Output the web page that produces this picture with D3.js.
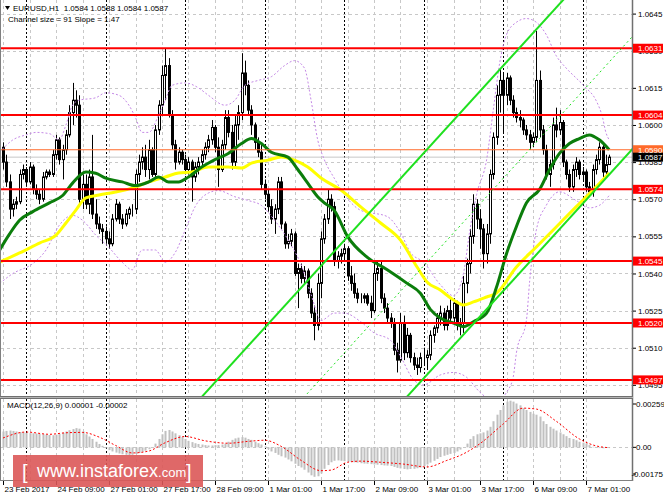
<!DOCTYPE html>
<html>
<head>
<meta charset="utf-8">
<script src="https://cdn.jsdelivr.net/npm/d3@7"></script>
<style>
  body { margin: 0; background: #fff; }
  svg { display: block; font-family: "Liberation Sans", Arial, sans-serif; }
  text { white-space: pre; }
</style>
</head>
<body>
<script>
const width = 664;
const height = 498;

// prices are kept in pips above 1.0500
const BASE = 1.05;

// EURUSD H1 candles, bar 0 = 23 Feb 17:00 (open of a bar = close of the previous one)
const firstOpen = 91;
const closes = [
  85,77,66,68,69,80,82,77,83,74, 72,70,79,81,80,88,94,86,90,96,
  105,110,108,70,76,68,79,64,60,58, 57,54,52,62,68,62,60,64,66,66,
  80,85,87,82,90,80,98,108,120,124, 104,92,85,89,86,82,85,79,83,85,
  88,91,94,99,91,82,92,103,97,85, 100,105,121,116,106,100,93,89,76,72,
  67,62,66,77,60,52,53,56,40,42, 38,41,32,24,19,36,54,62,70,67,
  45,47,48,50,39,36,32,30,30,31, 28,25,40,42,30,26,22,20,9,5,
  20,8,15,6,3,2,6,6,7,15, 18,22,24,19,25,22,28,19,20,36,
  44,55,68,62,58,48,56,80,95,112, 118,112,119,110,105,103,102,98,96,93,
  95,118,98,90,80,84,100,98,101,85, 80,75,82,85,80,81,75,73,82,86,
  91,81,84,87
];
const highs = [
  93,88,80,70,71,82,84,83,85,84, 76,74,81,82,82,90,96,95,92,98,
  108,117,114,112,80,80,82,96,70,63, 60,59,57,64,70,69,64,66,67,68,
  82,88,91,92,94,91,100,110,124,131, 127,106,94,91,90,88,87,86,85,87,
  90,93,96,102,100,95,94,106,106,100, 104,108,129,126,118,108,101,95,92,78,
  74,70,68,79,79,61,56,58,57,44, 44,43,42,34,27,40,57,64,74,72,
  69,49,50,52,51,43,40,34,32,32, 32,31,44,45,45,32,28,24,22,12,
  24,23,18,16,8,6,8,10,9,17, 19,24,27,26,27,30,30,29,22,39,
  46,58,72,70,66,60,60,82,97,116, 123,121,121,120,112,107,106,103,100,98,
  97,138,122,100,92,86,103,107,106,102, 86,82,84,87,86,83,82,77,84,88,
  93,92,88,88
];
const lows = [
  82,75,62,63,66,68,78,75,76,72, 70,68,69,78,79,79,86,84,78,88,
  95,100,103,68,66,66,64,62,58,56, 52,52,50,51,61,60,58,59,62,63,
  64,77,82,79,78,79,79,96,104,110, 103,90,82,84,84,80,80,69,77,80,
  83,86,89,92,89,75,81,90,95,82, 83,94,102,112,104,96,90,87,74,70,
  65,60,56,64,58,50,50,51,39,26, 36,36,30,22,13,17,30,52,60,65,
  43,42,44,45,37,33,30,28,28,28, 27,22,24,37,28,24,20,18,7,0,
  4,5,6,4,1,-1,0,3,1,5, 12,16,19,17,17,20,20,17,15,16,
  32,40,52,58,50,42,44,52,78,92, 105,97,108,108,103,101,99,96,94,90,
  91,93,95,88,78,75,82,95,96,83, 78,73,73,79,78,77,73,71,71,80,
  84,79,79,84
];

// moving averages and bands, [bar, pips]
const greenMA = [[-1,49.5],[2,56],[5,61.5],[9,65],[14,68.5],[18,71.5],[21,76.5],[25,81],[28,80.5],
  [31,78.5],[36,77],[40,75.5],[44,77],[47,79],[50,77],[53,77],[56,79],[60,83],[64,86],[68,88.5],
  [72,92.5],[75,94.5],[78,92.5],[81,89],[86,87],[89,82],[92,76.5],[95,71],[97,68.5],[100,65.5],
  [104,55],[110,46.5],[116,41.5],[122,36],[126,32],[129,25.5],[132,22],[136,20],[139,18.5],
  [142,20.5],[146,24],[149,34.5],[152,48],[155,59],[158,68.5],[162,74],[165,82],[168,88.5],
  [171,92.5],[174,94.5],[177,96],[180,94],[183,90]];
const yellowMA = [[-1,44.6],[5,48.3],[11,52.3],[16,55.5],[19,60.4],[22,65.6],[25,70.5],[29,71.7],
  [34,72.9],[39,74.5],[44,77],[49,79],[53,80.6],[57,81],[62,83],[68,83],[72,82.6],[75,84.6],
  [80,85.8],[84,87.1],[88,85.8],[92,83],[96,78.6],[102,73.7],[108,66.9],[114,60.4],[120,53.5],
  [125,42.6],[128,36.6],[132,33.3],[136,29.3],[139,27.3],[142,28.5],[146,30.5],[149,32.1],
  [155,42.6],[161,50.7],[167,58.8],[173,66.9],[179,74.9],[183,80.6]];
const bbUpper = [[-1,89],[3,94],[7,96],[10,97],[14,96.5],[17,94],[19,100],[21,108],[23,110],[28,111],
  [31,113],[35,112],[38,108],[40,103],[42,97],[44,97],[47,104],[49,110],[51,116],[55,117],[59,115],
  [62,112],[67,108],[70,110],[73,116],[77,118],[81,119.5],[85,124],[88,126],[91,123],[93,110],
  [95,94],[97,86],[100,78.5],[103,72],[108,65.5],[116,63],[120,56.5],[123,48.5],[127,44.5],
  [132,35.5],[136,31],[139,40],[141,58],[143,72],[146,86],[148,106],[150,125.5],[152,136.5],
  [155,141.5],[158,143],[161,141.5],[164,136.5],[167,128],[170,123],[173,119],[176,115],
  [179,110],[181,103],[182,97],[183,94]];
const bbLower = [[-1,36],[3,40],[9,44],[13,49.5],[17,59.5],[21,63.5],[24,61.5],[28,55.5],[32,50.5],
  [36,44.5],[39,41.5],[42,49.5],[46,49.5],[49,44.5],[52,48.5],[55,57.5],[58,67],[62,72.5],[65,73.5],
  [70,71],[74,69.5],[78,67.5],[82,61.5],[87,51.5],[90,43.5],[93,31.5],[96,21],[100,24],[103,24],
  [108,20.5],[112,16],[117,13],[120,6.5],[124,-3],[127,-5],[132,-1],[136,0],[140,-2],[144,-8],
  [149,-12],[152,-8],[154,-2],[155,8],[158,21],[159,37],[161,57.5],[164,67.5],[168,73],[173,69.5],
  [177,66.5],[180,67.5],[183,71.5]];

// regression channel: anchor [bar, pips] of the lower line, width in pips, slope in pips per bar
const channelAnchor = [142.5, 20.4];
const channelSize = 91;
const channelSlope = 1.47;

// horizontal levels
const redLevels = [1.0631, 1.0604, 1.0574, 1.0545, 1.0520, 1.0497];
const orangeLevel = 1.0590;
const lastPrice = 1.0587;
const priceTicks = [1.0645, 1.0630, 1.0615, 1.0600, 1.0585, 1.0570, 1.0555, 1.0540, 1.0525, 1.0510, 1.0495];

// time axis
const timeLabelBars = [0, 16, 32, 48, 64, 80, 96, 112, 128, 144, 160, 176];
const timeLabels = ["23 Feb 2017", "24 Feb 09:00", "27 Feb 01:00", "27 Feb 17:00", "28 Feb 09:00",
  "1 Mar 01:00", "1 Mar 17:00", "2 Mar 09:00", "3 Mar 01:00", "3 Mar 17:00", "6 Mar 09:00", "7 Mar 01:00"];
const daySeparators = [7, 31, 55, 79, 103, 127, 151, 175];

// MACD(12,26,9), units of 0.00001
const macdHist = [
  85,88,90,88,85,82, 80,78,76,75,74,72, 70,68,66,65,68,72, 78,85,92,98,103,100,
  85,70,58,45, 30,18,8, -5,-15,-22,-28,-33,-37,-40,-41,-40,-36,-30,-24,-18,
  -10,0,20,45, 70,88,93,85,75,65, 55,45,35,28,22,18,15, 12,10,10,12,12,15,20,30,40,
  48,52,55,52,45,40, 30,22,15,5, -10,-22,-30,-40,-48, -55,-65,-75,-88,-100,-108,
  -120,-135,-150,-158,-155,-140, -115,-95,-80,-72, -70,-72,-74,-76,-78,-80,
  -82,-85,-87,-88,-90,-92,-93, -95,-97,-98,-100,-105,-110,-113, -116,-118,-116,-115,-112,-108,
  -100,-92,-82,-72,-62, -52,-45,-40,-35,-30,-22,-12, 0,20,45,60, 70,75,80,90,
  110,140,175,200, 225,245,250,245, 235,225,210,200,190,180, 175,165,140,125,110,100,
  90,80,70,60,50, 45,38,30,25,20,12, 3,0,-4,-5,-3,1
];
const macdSignal = [[0,50],[7,82],[14,70],[19,78],[24,80],[29,55],[34,10],[39,-30],[44,-20],[49,25],
  [55,58],[61,35],[68,22],[74,32],[79,38],[84,5],[90,-70],[96,-125],[99,-122],[104,-80],[108,-74],
  [114,-80],[121,-90],[128,-105],[134,-70],[139,-35],[144,20],[151,125],[157,210],[161,205],
  [167,140],[174,45],[179,8],[183,-2]];
const macdTicks = [0.00259, 0, -0.00175];

const px = v => BASE + v / 10000;

// layout
const plotLeft = 1, plotRight = 632;
const mainTop = 0, mainBottom = 396;
const macdTop = 399, macdBottom = 480;

const x = d3.scaleLinear().domain([0, 176]).range([3, 586]);
const y = d3.scaleLinear().domain([1.0495, 1.0645]).range([384.85, 13.6]);
const ym = d3.scaleLinear().domain([-0.00175, 0.00259]).range([macdBottom, macdTop]);

const svg = d3.select("body").append("svg")
  .attr("width", width)
  .attr("height", height);

svg.append("rect").attr("width", width).attr("height", height).attr("fill", "#fff");

const defs = svg.append("defs");
defs.append("clipPath").attr("id", "clipMain").append("rect")
  .attr("x", plotLeft).attr("y", mainTop).attr("width", plotRight - plotLeft).attr("height", mainBottom - mainTop);
defs.append("clipPath").attr("id", "clipMacd").append("rect")
  .attr("x", plotLeft).attr("y", macdTop).attr("width", plotRight - plotLeft).attr("height", macdBottom - macdTop);

const main = svg.append("g").attr("clip-path", "url(#clipMain)");
const macd = svg.append("g").attr("clip-path", "url(#clipMacd)");

// grid
const gridBars = d3.range(0, 184, 8);
[[main, mainTop, mainBottom], [macd, macdTop, macdBottom]].forEach(([g, t, b]) => {
  g.selectAll("line.vgrid").data(gridBars).join("line")
    .attr("class", "vgrid")
    .attr("x1", d => Math.round(x(d)) + 0.5).attr("x2", d => Math.round(x(d)) + 0.5)
    .attr("y1", t).attr("y2", b)
    .attr("stroke", "#c8c8c8").attr("stroke-dasharray", "3,3");
  g.selectAll("line.sep").data(daySeparators).join("line")
    .attr("class", "sep")
    .attr("x1", d => Math.round(x(d)) + 0.5).attr("x2", d => Math.round(x(d)) + 0.5)
    .attr("y1", t).attr("y2", b)
    .attr("stroke", "#000").attr("stroke-dasharray", "2,2");
});
main.selectAll("line.hgrid").data(priceTicks).join("line")
  .attr("x1", plotLeft).attr("x2", plotRight)
  .attr("y1", d => Math.round(y(d)) + 0.5).attr("y2", d => Math.round(y(d)) + 0.5)
  .attr("stroke", "#c8c8c8").attr("stroke-dasharray", "3,3");
macd.append("line")
  .attr("x1", plotLeft).attr("x2", plotRight)
  .attr("y1", Math.round(ym(0)) + 0.5).attr("y2", Math.round(ym(0)) + 0.5)
  .attr("stroke", "#c8c8c8").attr("stroke-dasharray", "3,3");

// bid line
main.append("line")
  .attr("x1", plotLeft).attr("x2", plotRight)
  .attr("y1", y(lastPrice)).attr("y2", y(lastPrice))
  .attr("stroke", "#c8c8c8");

// candles
const candles = closes.map((c, i) => ({
  i, c, h: highs[i], l: lows[i], o: i ? closes[i - 1] : firstOpen
}));
const gc = main.append("g");
gc.selectAll("line").data(candles).join("line")
  .attr("x1", d => Math.round(x(d.i)) + 0.5).attr("x2", d => Math.round(x(d.i)) + 0.5)
  .attr("y1", d => y(px(d.h))).attr("y2", d => y(px(d.l)))
  .attr("stroke", "#000");
gc.selectAll("rect").data(candles).join("rect")
  .attr("x", d => Math.round(x(d.i)) - 0.5).attr("width", 2)
  .attr("y", d => y(px(Math.max(d.o, d.c))))
  .attr("height", d => Math.abs(y(px(d.o)) - y(px(d.c))))
  .attr("fill", d => d.c >= d.o ? "#fff" : "#000")
  .attr("stroke", "#000").attr("stroke-width", 1);

// bands and averages
const priceLine = d3.line()
  .x(d => x(d[0]))
  .y(d => y(px(d[1])))
  .curve(d3.curveMonotoneX);

[bbUpper, bbLower].forEach(band => {
  main.append("path").attr("d", priceLine(band))
    .attr("fill", "none").attr("stroke", "#c488e6").attr("stroke-width", 1)
    .attr("stroke-dasharray", "2,2");
});
main.append("path").attr("d", priceLine(yellowMA))
  .attr("fill", "none").attr("stroke", "#ffff00").attr("stroke-width", 3);
main.append("path").attr("d", priceLine(greenMA))
  .attr("fill", "none").attr("stroke", "#0b7d0b").attr("stroke-width", 3);

// horizontal levels
main.selectAll("line.level").data(redLevels).join("line")
  .attr("class", "level")
  .attr("x1", plotLeft).attr("x2", plotRight)
  .attr("y1", d => y(d)).attr("y2", d => y(d))
  .attr("stroke", "#ff0000").attr("stroke-width", 2);
main.append("line")
  .attr("x1", plotLeft).attr("x2", plotRight)
  .attr("y1", y(orangeLevel)).attr("y2", y(orangeLevel))
  .attr("stroke", "#ff6a2a").attr("stroke-width", 1.2);

// channel
const chBars = [-20, 220];
const chLine = off => d3.line()
  .x(b => x(b))
  .y(b => y(px(channelAnchor[1] + channelSlope * (b - channelAnchor[0]) + off)))(chBars);
main.append("path").attr("d", chLine(0))
  .attr("fill", "none").attr("stroke", "#1fe01f").attr("stroke-width", 2);
main.append("path").attr("d", chLine(channelSize))
  .attr("fill", "none").attr("stroke", "#1fe01f").attr("stroke-width", 2);
main.append("path").attr("d", chLine(channelSize / 2))
  .attr("fill", "none").attr("stroke", "#1fe01f").attr("stroke-width", 1)
  .attr("stroke-dasharray", "2,3");

// MACD
macd.selectAll("rect.hist").data(macdHist).join("rect")
  .attr("class", "hist")
  .attr("x", (d, i) => Math.round(x(i)) - 0.5).attr("width", 2)
  .attr("y", d => Math.min(ym(d / 1e5), ym(0)))
  .attr("height", d => Math.abs(ym(d / 1e5) - ym(0)))
  .attr("fill", "#c0c0c0");
macd.append("path")
  .attr("d", d3.line().x(d => x(d[0])).y(d => ym(d[1] / 1e5)).curve(d3.curveMonotoneX)(macdSignal))
  .attr("fill", "none").attr("stroke", "#ff0000").attr("stroke-width", 1)
  .attr("stroke-dasharray", "2,2");

// frames
svg.append("line").attr("x1", 0.5).attr("x2", 0.5).attr("y1", 0).attr("y2", macdBottom)
  .attr("stroke", "#808080");
svg.append("line").attr("x1", plotRight + 0.5).attr("x2", plotRight + 0.5).attr("y1", 0).attr("y2", macdBottom + 1)
  .attr("stroke", "#707070").attr("stroke-width", 1.5);
svg.append("rect").attr("x", 0).attr("y", mainBottom).attr("width", plotRight + 1).attr("height", macdTop - mainBottom)
  .attr("fill", "#b4b4b4");
svg.append("line").attr("x1", 0).attr("x2", plotRight + 1).attr("y1", mainBottom + 0.5).attr("y2", mainBottom + 0.5)
  .attr("stroke", "#707070");
svg.append("line").attr("x1", 0).attr("x2", plotRight + 1).attr("y1", macdTop - 0.5).attr("y2", macdTop - 0.5)
  .attr("stroke", "#707070");
svg.append("line").attr("x1", 0).attr("x2", plotRight + 1).attr("y1", macdBottom + 0.5).attr("y2", macdBottom + 0.5)
  .attr("stroke", "#808080");

// price axis
const yAxis = svg.append("g")
  .attr("transform", `translate(${plotRight + 1},0)`)
  .call(d3.axisRight(y).tickValues(priceTicks).tickSize(3).tickPadding(2).tickFormat(d3.format(".4f")));
yAxis.select(".domain").remove();
yAxis.selectAll("text").attr("font-size", 8).attr("font-family", "Liberation Sans, Arial, sans-serif").attr("fill", "#000");
yAxis.selectAll("line").attr("stroke", "#000");

// price boxes
const boxes = redLevels.map(v => ({ v, fill: "#ff0000" }))
  .concat([{ v: orangeLevel, fill: "#ff6a2a" }, { v: lastPrice, fill: "#000" }]);
const gb = svg.append("g");
gb.selectAll("rect").data(boxes).join("rect")
  .attr("x", plotRight + 1).attr("width", width - plotRight - 2)
  .attr("y", d => y(d.v) - 4.5).attr("height", 9)
  .attr("fill", d => d.fill);
gb.selectAll("text").data(boxes).join("text")
  .attr("x", plotRight + 6).attr("y", d => y(d.v) + 3)
  .attr("font-size", 8).attr("fill", "#fff")
  .text(d => d3.format(".4f")(d.v));

// MACD axis
const gm = svg.append("g");
gm.selectAll("line").data(macdTicks).join("line")
  .attr("x1", plotRight + 1).attr("x2", plotRight + 4)
  .attr("y1", (d, i) => [ym(d) + 5, ym(d), ym(d) - 6][i])
  .attr("y2", (d, i) => [ym(d) + 5, ym(d), ym(d) - 6][i])
  .attr("stroke", "#000");
gm.selectAll("text").data(macdTicks).join("text")
  .attr("x", d => d < 0 ? width - 1 : plotRight + 4)
  .attr("text-anchor", d => d < 0 ? "end" : "start")
  .attr("y", (d, i) => [ym(d) + 8, ym(d) + 3, ym(d) - 3][i])
  .attr("font-size", 8).attr("fill", "#000")
  .text(d => d === 0 ? "0.00" : d3.format(".5f")(d).replace("\u2212", "-"));

// time axis
const xAxis = svg.append("g")
  .attr("transform", `translate(0,${macdBottom + 1})`)
  .call(d3.axisBottom(x).tickValues(timeLabelBars).tickSize(4).tickPadding(1)
    .tickFormat((d, i) => timeLabels[i]));
xAxis.select(".domain").remove();
xAxis.selectAll("line").attr("stroke", "#000");
xAxis.selectAll("text")
  .attr("text-anchor", "start").attr("x", 1)
  .attr("font-size", 8).attr("font-family", "Liberation Sans, Arial, sans-serif").attr("fill", "#000");

// header texts
svg.append("path").attr("d", "M5,6 L10,6 L7.5,10 Z").attr("fill", "#000");
svg.append("text").attr("x", 13).attr("y", 11).attr("font-size", 8).attr("fill", "#000")
  .text("EURUSD,H1  1.0584 1.0588 1.0584 1.0587");
svg.append("text").attr("x", 8).attr("y", 22).attr("font-size", 8).attr("fill", "#000")
  .text("Channel size = 91 Slope = 1.47");
svg.append("text").attr("x", 7).attr("y", 408).attr("font-size", 8).attr("fill", "#000")
  .text("MACD(12,26,9) 0.00001 -0.00002");

// watermark
const wm = svg.append("g");
wm.append("rect").attr("x", 13).attr("y", 455).attr("width", 190).attr("height", 32)
  .attr("fill", "#dc5858").attr("opacity", 0.9);
wm.append("text").attr("x", 22).attr("y", 479).attr("font-size", 20).attr("fill", "#fff").text("[");
wm.append("text").attr("x", 37).attr("y", 477).attr("font-size", 18).attr("fill", "#fff")
  .text("www.instaforex")
  .append("tspan").attr("font-size", 13).text(".com");
wm.append("text").attr("x", 186).attr("y", 479).attr("font-size", 20).attr("fill", "#fff").text("]");
</script>
</body>
</html>
